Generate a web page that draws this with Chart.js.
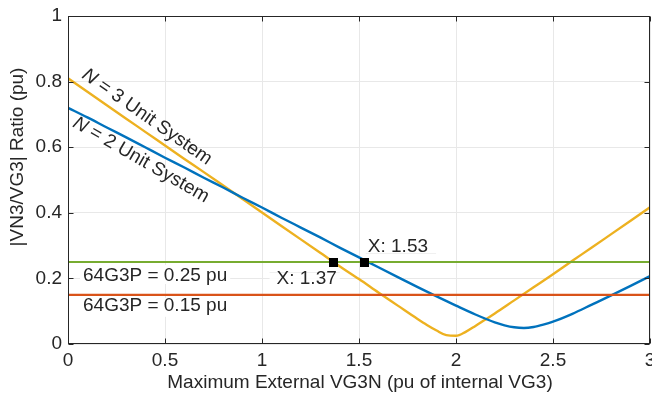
<!DOCTYPE html>
<html>
<head>
<meta charset="utf-8">
<script src="https://cdn.jsdelivr.net/npm/chart.js@4.4.1/dist/chart.umd.min.js"></script>
<style>
html,body{margin:0;padding:0;background:#fff;}
canvas{display:block;}
</style>
</head>
<body>
<canvas id="c" width="652" height="395"></canvas>
<script>
// ---- data ----
const xTicks = [0, 0.5, 1, 1.5, 2, 2.5, 3];
const yTicks = [0, 0.2, 0.4, 0.6, 0.8, 1];

// N = 2 unit system (blue)
const blueX = [0,0.1,0.2,0.3,0.4,0.5,0.6,0.7,0.8,0.9,1.0,1.1,1.2,1.3,1.4,1.5,1.6,1.7,1.8,1.9,2.0,2.1,2.2,2.25,2.3,2.35,2.4,2.45,2.5,2.6,2.7,2.8,2.9,3.0];
const blueY = [0.720,0.691,0.660,0.630,0.599,0.568,0.538,0.507,0.477,0.446,0.416,0.385,0.355,0.325,0.294,0.264,0.234,0.204,0.174,0.145,0.117,0.090,0.066,0.057,0.051,0.049,0.052,0.059,0.068,0.092,0.120,0.148,0.177,0.207];

// N = 3 unit system (yellow)
const yellowX = [0,0.1,0.2,0.3,0.4,0.5,0.6,0.7,0.8,0.9,1.0,1.1,1.2,1.3,1.4,1.5,1.6,1.7,1.8,1.85,1.9,1.95,2.0,2.05,2.1,2.15,2.2,2.3,2.4,2.5,2.6,2.7,2.8,2.9,3.0];
const yellowY = [0.810,0.769,0.728,0.687,0.646,0.605,0.564,0.524,0.483,0.442,0.401,0.360,0.319,0.278,0.237,0.198,0.157,0.117,0.077,0.058,0.041,0.027,0.025,0.037,0.055,0.074,0.093,0.133,0.173,0.213,0.254,0.294,0.335,0.376,0.417];

// 64G3P pickup thresholds
const thresholdValues = [0.25, 0.15];
const thresholdLabels = ['64G3P = 0.25 pu', '64G3P = 0.15 pu'];

// data tips
const tipX = [1.37, 1.53];
const tipY = [0.25, 0.25];
const tipLabels = ['X: 1.37', 'X: 1.53'];

const curveLabels = ['N = 3 Unit System', 'N = 2 Unit System'];
const xTitle = 'Maximum External VG3N (pu of internal VG3)';
const yTitle = '|VN3/VG3| Ratio (pu)';

// ---- styles ----
const FONT = '"Liberation Sans", Arial, Helvetica, sans-serif';
const FS = 19;
const BLUE = '#0072BD', YELLOW = '#EDB120', GREEN = '#77AC30', RED = '#D95319';
const AXIS = '#262626';

const pts = (xs, ys) => xs.map((v, i) => ({x: v, y: ys[i]}));

const overlay = {
  id: 'overlay',
  afterDatasetsDraw(chart) {
    const {ctx, chartArea: a, scales: {x, y}} = chart;
    ctx.save();
    ctx.font = FS + 'px ' + FONT;
    ctx.textBaseline = 'alphabetic';
    // threshold labels
    thresholdValues.forEach((v, i) => {
      const py = y.getPixelForValue(v);
      const tx = a.left + 15;
      const w = ctx.measureText(thresholdLabels[i]).width;
      ctx.fillStyle = '#fff';
      ctx.fillRect(tx - 3, py + 3, w + 6, 19);
      ctx.fillStyle = AXIS;
      ctx.fillText(thresholdLabels[i], tx, py + (i === 0 ? 19 : 16));
    });
    // datatip boxes and text
    tipX.forEach((v, i) => {
      const px = x.getPixelForValue(v), py = y.getPixelForValue(tipY[i]);
      const w = ctx.measureText(tipLabels[i]).width;
      let bx, by, tx, ty;
      if (i === 0) { bx = px + 5 - w - 9; by = py + 10; tx = px + 3 - w; ty = py + 22; }
      else { bx = px + 1; by = py - 27; tx = px + 3; ty = py - 10; }
      ctx.fillStyle = 'rgba(255,255,255,0.9)';
      ctx.fillRect(bx, by, w + 10, 18);
      ctx.strokeStyle = 'rgba(225,225,225,0.5)';
      ctx.lineWidth = 1;
      ctx.beginPath();
      if (i === 0) { ctx.moveTo(bx, by + 0.5); ctx.lineTo(bx + w + 10, by + 0.5); }
      else { ctx.moveTo(bx, by + 18.5); ctx.lineTo(bx + w + 10, by + 18.5); }
      ctx.stroke();
      ctx.fillStyle = AXIS;
      ctx.fillText(tipLabels[i], tx, ty);
    });
    // markers on top
    tipX.forEach((v, i) => {
      const px = x.getPixelForValue(v), py = y.getPixelForValue(tipY[i]);
      ctx.fillStyle = '#000';
      ctx.fillRect(Math.round(px - 4.5), Math.round(py - 4.5), 9, 9);
    });
    // rotated curve labels
    const drawRot = (label, cx, cy, ang) => {
      ctx.save();
      ctx.translate(cx, cy);
      ctx.rotate(ang * Math.PI / 180);
      ctx.textBaseline = 'middle';
      const first = label.charAt(0), rest = label.slice(1);
      ctx.font = 'italic ' + FS + 'px ' + FONT;
      const w1 = ctx.measureText(first).width;
      ctx.font = FS + 'px ' + FONT;
      const w2 = ctx.measureText(rest).width;
      const start = -(w1 + w2) / 2;
      ctx.fillStyle = AXIS;
      ctx.font = 'italic ' + FS + 'px ' + FONT;
      ctx.fillText(first, start, 0);
      ctx.font = FS + 'px ' + FONT;
      ctx.fillText(rest, start + w1, 0);
      ctx.restore();
    };
    drawRot(curveLabels[0], 147, 117, 35);
    drawRot(curveLabels[1], 141, 160, 30);
    ctx.restore();
  },
  afterDraw(chart) {
    const {ctx, chartArea: a, scales: {x, y}} = chart;
    ctx.save();
    ctx.strokeStyle = AXIS;
    ctx.lineWidth = 1;
    const L = Math.round(a.left) + 0.5, R = Math.round(a.right) - 0.5;
    const T = Math.round(a.top) + 0.5, B = Math.round(a.bottom) - 0.5;
    ctx.strokeRect(L, T, R - L, B - T);
    const tl = 5;
    ctx.beginPath();
    xTicks.forEach(v => {
      const px = Math.round(x.getPixelForValue(v)) + 0.5;
      ctx.moveTo(px, B); ctx.lineTo(px, B - tl);
      ctx.moveTo(px, T); ctx.lineTo(px, T + tl);
    });
    yTicks.forEach(v => {
      const py = Math.round(y.getPixelForValue(v)) + 0.5;
      ctx.moveTo(L, py); ctx.lineTo(L + tl, py);
      ctx.moveTo(R, py); ctx.lineTo(R - tl, py);
    });
    ctx.stroke();
    // axis titles
    ctx.fillStyle = AXIS;
    ctx.font = FS + 'px ' + FONT;
    ctx.textAlign = 'center';
    ctx.textBaseline = 'alphabetic';
    ctx.fillText(xTitle, 360, 388);
    ctx.translate(23, 157);
    ctx.rotate(-Math.PI / 2);
    ctx.fillText(yTitle, 0, 0);
    ctx.restore();
  }
};

new Chart(document.getElementById('c'), {
  type: 'line',
  data: {
    datasets: [
      {data: pts([0, 3], [thresholdValues[0], thresholdValues[0]]), borderColor: GREEN, borderWidth: 2.2, pointRadius: 0},
      {data: pts([0, 3], [thresholdValues[1], thresholdValues[1]]), borderColor: RED, borderWidth: 2.2, pointRadius: 0},
      {data: pts(blueX, blueY), borderColor: BLUE, borderWidth: 2.4, pointRadius: 0, cubicInterpolationMode: 'monotone'},
      {data: pts(yellowX, yellowY), borderColor: YELLOW, borderWidth: 2.4, pointRadius: 0, cubicInterpolationMode: 'monotone'}
    ]
  },
  options: {
    responsive: false,
    animation: false,
    devicePixelRatio: 1,
    layout: {padding: {top: 16, right: 2, left: 0, bottom: 0}},
    plugins: {legend: {display: false}, tooltip: {enabled: false}},
    scales: {
      x: {
        type: 'linear', min: 0, max: 3,
        afterBuildTicks: s => { s.ticks = xTicks.map(v => ({value: v})); },
        afterFit: s => { s.height = 51; s.paddingLeft = 0; s.paddingRight = 0; },
        grid: {color: '#e8e8e8', drawTicks: false},
        border: {display: false},
        ticks: {autoSkip: false, maxRotation: 0, padding: 5, color: AXIS, font: {family: FONT, size: FS}, callback: v => String(v)}
      },
      y: {
        type: 'linear', min: 0, max: 1,
        afterBuildTicks: s => { s.ticks = yTicks.map(v => ({value: v})); },
        afterFit: s => { s.width = 68; s.paddingTop = 0; s.paddingBottom = 0; },
        grid: {color: '#e8e8e8', drawTicks: false},
        border: {display: false},
        ticks: {autoSkip: false, padding: 6, color: AXIS, font: {family: FONT, size: FS}, callback: v => String(v)}
      }
    }
  },
  plugins: [overlay]
});
</script>
</body>
</html>
